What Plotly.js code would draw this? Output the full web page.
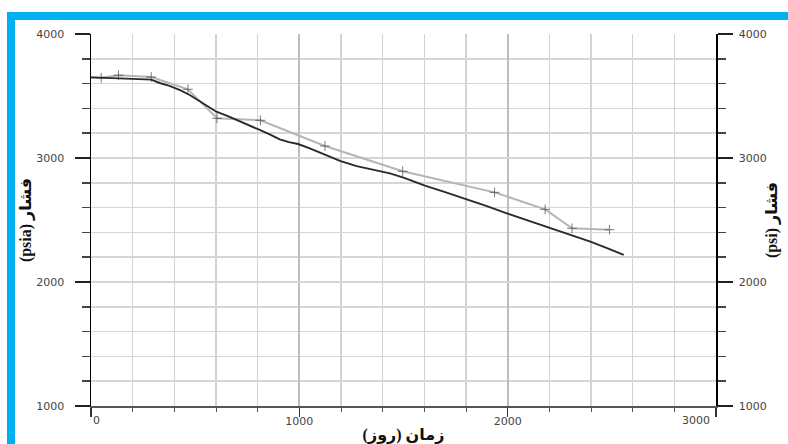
<!DOCTYPE html>
<html>
<head>
<meta charset="utf-8">
<script src="https://cdn.plot.ly/plotly-3.0.1.min.js"></script>
<style>
html,body{margin:0;padding:0;background:#fff;}
#wrap{position:relative;width:788px;height:444px;overflow:hidden;}
#chart{position:absolute;left:0;top:0;width:788px;height:444px;}
.bar{position:absolute;background:#00B0F0;}
</style>
</head>
<body>
<div id="wrap">
<div id="chart"></div>
<div class="bar" style="left:7px;top:12px;width:781px;height:8px;"></div>
<div class="bar" style="left:7px;top:12px;width:8px;height:432px;"></div>
</div>
<script>
// Simulated pressure (black line)
var simDays = [0, 60, 120, 200, 289, 330, 377, 430, 474, 538, 602, 660, 714, 760, 810, 860, 906, 950, 994, 1050, 1114, 1195, 1275, 1355, 1435, 1500, 1603, 1700, 1804, 1900, 1996, 2100, 2204, 2300, 2397, 2480, 2557];
var simPressure = [3650, 3648, 3642, 3638, 3632, 3605, 3581, 3545, 3508, 3441, 3373, 3335, 3298, 3262, 3226, 3188, 3150, 3128, 3113, 3078, 3032, 2976, 2935, 2903, 2876, 2842, 2777, 2724, 2669, 2612, 2554, 2496, 2438, 2382, 2325, 2272, 2218];
// Observed pressure (grey line with + markers)
var obsDays = [0, 49, 132, 289, 465, 605, 813, 1123, 1496, 1937, 2180, 2309, 2489];
var obsPressure = [3650, 3647, 3667, 3653, 3554, 3320, 3304, 3097, 2893, 2723, 2586, 2433, 2422];
var obsMarkerShown = [0, 1, 1, 1, 1, 1, 1, 1, 1, 1, 1, 1, 1];

var xTickVals = [0, 1000, 2000, 3000];
var xTickText = ['', '1000', '2000', ''];
var yTickVals = [1000, 2000, 3000, 4000];
var yTickText = ['1000', '2000', '3000', '4000'];

var xTitle = 'زمان (روز)';
var yTitleLeft = '(psia) فشار';
var yTitleRight = '(psi) فشار';

var tickFont = {family: 'DejaVu Sans, sans-serif', size: 11, color: '#444'};
var titleFont = {family: 'Liberation Serif, DejaVu Sans, serif', size: 16, color: '#111', weight: 'bold'};

var traces = [
  {
    x: obsDays, y: obsPressure, type: 'scatter', mode: 'lines+markers',
    line: {color: '#b5b5b5', width: 2},
    marker: {symbol: 'cross-thin', size: obsMarkerShown.map(function(v){return v ? 7 : 0;}), color: '#444', line: {color: '#444', width: 1}},
    hoverinfo: 'x+y', showlegend: false
  },
  {
    x: simDays, y: simPressure, type: 'scatter', mode: 'lines',
    line: {color: '#2a2a2a', width: 1.9},
    hoverinfo: 'x+y', showlegend: false
  },
  {
    // empty trace so that the right-hand pressure axis is drawn
    x: [], y: [], type: 'scatter', mode: 'lines', yaxis: 'y2',
    hoverinfo: 'skip', showlegend: false
  }
];

var layout = {
  width: 788, height: 444,
  margin: {l: 91, r: 72, t: 34, b: 38},
  paper_bgcolor: '#fff', plot_bgcolor: '#fff',
  showlegend: false,
  xaxis: {
    range: [0, 3000], tickmode: 'array', tickvals: xTickVals, ticktext: xTickText,
    ticks: 'outside', ticklen: 9, tickwidth: 1.5, tickcolor: '#333',
    showline: true, linecolor: '#555', linewidth: 1.5,
    showgrid: true, gridcolor: '#bdbdbd', gridwidth: 2, zeroline: false,
    tickfont: tickFont, ticklabelstandoff: -5,
    minor: {dtick: 200, tick0: 0, ticks: 'outside', ticklen: 4, tickwidth: 1, tickcolor: '#555', showgrid: true, gridcolor: '#d2d2d2', gridwidth: 1.5},
    title: {text: xTitle, font: titleFont, standoff: 2},
    automargin: false
  },
  yaxis: {
    range: [1000, 4000], tickmode: 'array', tickvals: yTickVals, ticktext: yTickText,
    ticks: 'outside', ticklen: 15, tickwidth: 1.5, tickcolor: '#222',
    showline: true, linecolor: '#000', linewidth: 1.5,
    showgrid: true, gridcolor: '#d6d6d6', gridwidth: 1.5, zeroline: false,
    tickfont: tickFont, ticklabelstandoff: 8,
    minor: {dtick: 200, tick0: 1000, ticks: 'outside', ticklen: 8, tickwidth: 1.5, tickcolor: '#444', showgrid: true, gridcolor: '#d6d6d6', gridwidth: 1.5},
    title: {text: yTitleLeft, font: titleFont, standoff: 0},
    automargin: false
  },
  yaxis2: {
    overlaying: 'y', side: 'right', anchor: 'x',
    range: [1000, 4000], tickmode: 'array', tickvals: yTickVals, ticktext: yTickText,
    ticks: 'outside', ticklen: 15, tickwidth: 1.5, tickcolor: '#222',
    showline: true, linecolor: '#000', linewidth: 1.5,
    showgrid: false, zeroline: false,
    tickfont: tickFont, ticklabelstandoff: 4,
    minor: {dtick: 200, tick0: 1000, ticks: 'outside', ticklen: 8, tickwidth: 1.5, tickcolor: '#444', showgrid: false},
    title: {text: yTitleRight, font: titleFont, standoff: 0},
    automargin: false
  },
  shapes: [
    // the reference has no frame line along the top edge
    {type: 'line', xref: 'paper', yref: 'y', x0: 0.003, x1: 0.997, y0: 4000, y1: 4000, layer: 'below', line: {color: '#ffffff', width: 2.5}}
  ],
  annotations: [
    {xref: 'x', yref: 'paper', x: 0, y: 0, yshift: -14, xanchor: 'left', yanchor: 'middle', text: '0', showarrow: false, font: tickFont},
    {xref: 'x', yref: 'paper', x: 3000, y: 0, yshift: -14, xshift: -4, xanchor: 'right', yanchor: 'middle', text: '3000', showarrow: false, font: tickFont}
  ]
};

Plotly.newPlot('chart', traces, layout, {displayModeBar: false, staticPlot: true});
</script>
</body>
</html>
